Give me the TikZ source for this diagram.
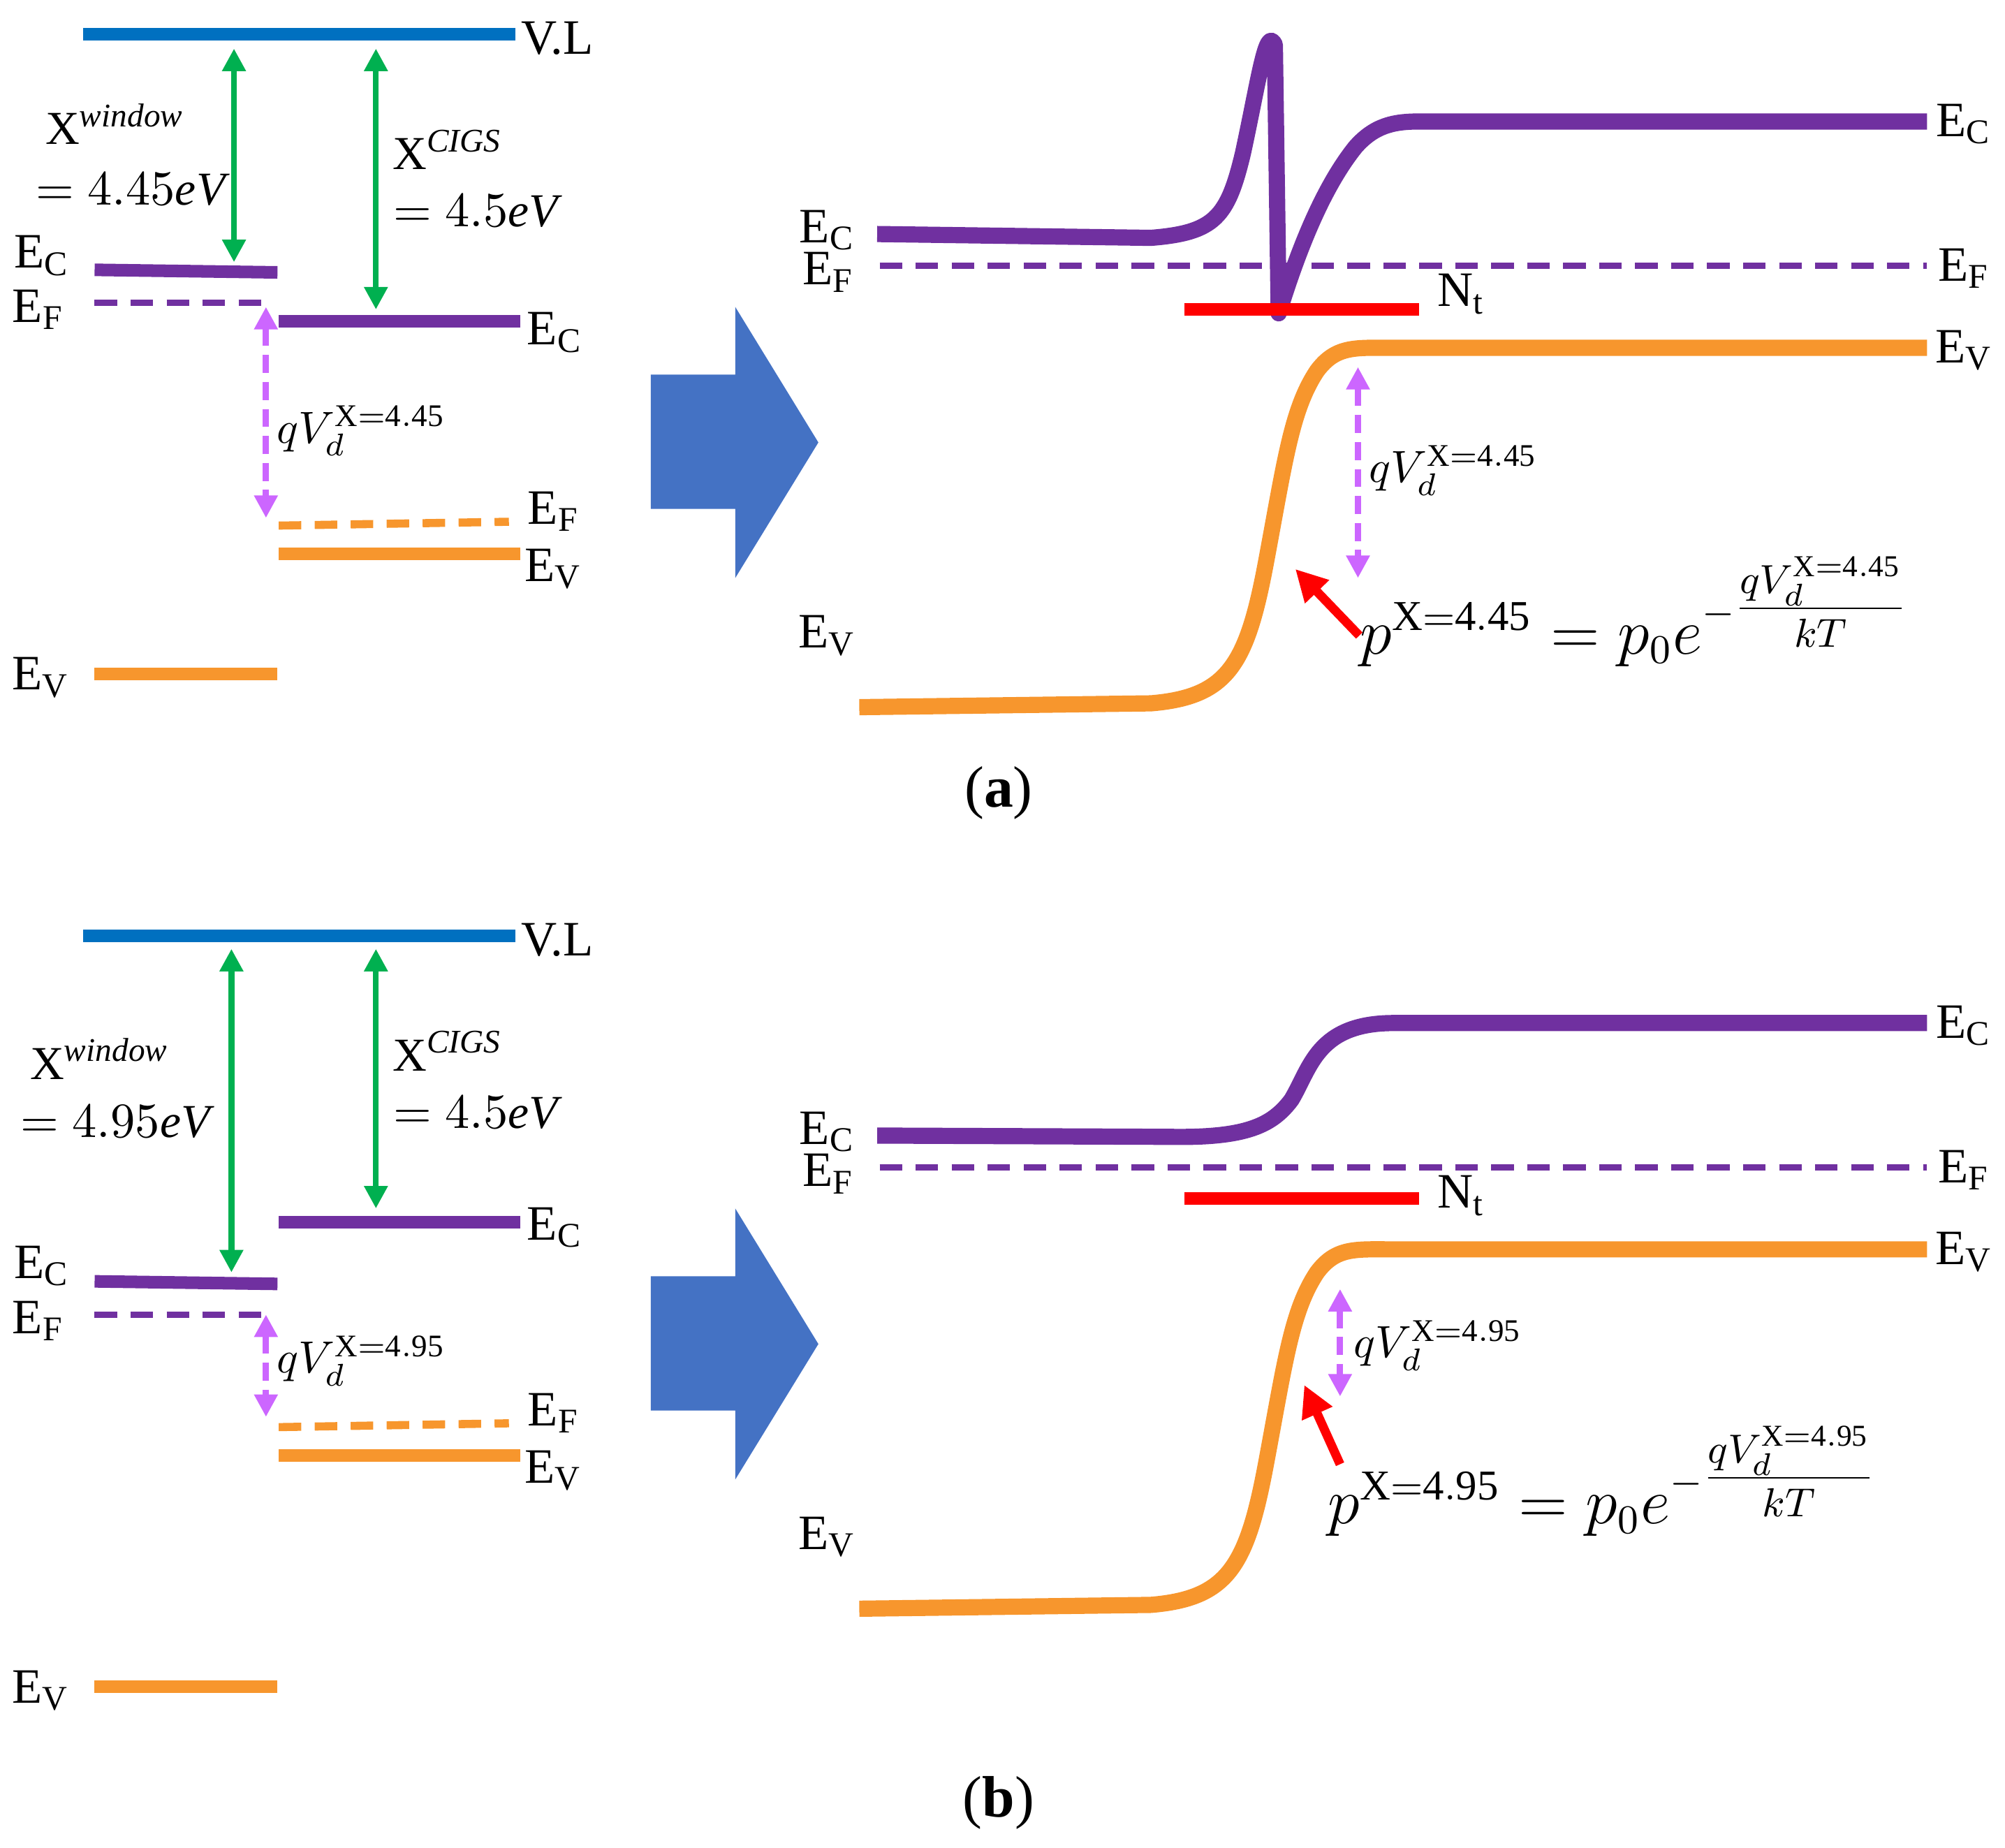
\documentclass[tikz,border=0pt]{standalone}
\usepackage{fontspec}
\setmainfont{Liberation Serif}
\usetikzlibrary{arrows.meta}
\definecolor{vl}{RGB}{0,112,192}
\definecolor{pur}{RGB}{112,48,160}
\definecolor{org}{RGB}{247,150,45}
\definecolor{grn}{RGB}{0,176,80}
\definecolor{mag}{RGB}{204,102,255}
\definecolor{bar}{RGB}{68,114,196}
\newcommand{\pform}[1]{$p^{\mathrm{X=#1}}=p_0e^{-\textstyle\frac{qV_d^{\mathrm{X=#1}}}{kT}}$}
\begin{document}
\begin{tikzpicture}[x=0.01cm,y=-0.01cm,
 lvl/.style={line width=2.8pt},
 dsh/.style={line width=1.4pt,dash pattern=on 5pt off 3pt},
 gar/.style={grn,line width=1.3pt,{Triangle[length=5pt,width=5pt]}-{Triangle[length=5pt,width=5pt]}},
 mar/.style={mag,line width=1.4pt,dash pattern=on 4pt off 2pt,{Triangle[length=5pt,width=5pt]}-{Triangle[length=5pt,width=5pt]}},
 lab/.style={font=\fontsize{11}{13}\selectfont,inner sep=0pt},
 chi/.style={font=\fontsize{10.5}{12}\selectfont,inner sep=0pt},
 qvs/.style={font=\fontsize{10}{12}\selectfont,inner sep=0pt},
 crv/.style={line width=3.6pt},
 form/.style={font=\fontsize{13.5}{16}\selectfont,inner sep=0pt}]
\useasboundingbox (0,0) rectangle (1568,1445);
% ---------------- Panel (a) ----------------
\draw[vl,lvl] (65,27) -- (403,27);
\node[lab,anchor=west] (vla) at (407,30) {V.L};
\coordinate (ga1) at (183,38); \coordinate (ga2) at (183,205);
\draw[gar] (ga1) -- (ga2);
\coordinate (gb1) at (294,38); \coordinate (gb2) at (294,242);
\draw[gar] (gb1) -- (gb2);
\node[chi] (xw) at (90,97) {X$^{\mathit{window}}$};
\node[chi] (xwv) at (102,148) {$=4.45\mathit{eV}$};
\node[chi] (xc) at (350,117) {X$^{\mathit{CIGS}}$};
\node[chi] (xcv) at (372,165) {$=4.5\mathit{eV}$};
\draw[pur,lvl] (74,211) -- (217,213);
\node[lab] (ecl) at (33,200) {E$_{\mathrm C}$};
\draw[pur,dsh] (74,237) -- (205,237);
\node[lab] (efl) at (30,242) {E$_{\mathrm F}$};
\draw[pur,lvl] (218,251) -- (407,251);
\node[lab] (ecr) at (434,260) {E$_{\mathrm C}$};
\coordinate (ma1) at (208,240); \coordinate (ma2) at (208,405);
\draw[mar] (ma1) -- (ma2);
\node[qvs,anchor=west] (qv) at (216,337) {$qV_d^{\mathrm{X=4.45}}$};
\draw[org,dsh,line width=1.8pt] (218,411) -- (398,408);
\node[lab] (efr) at (433,400) {E$_{\mathrm F}$};
\draw[org,lvl] (218,433) -- (407,433);
\node[lab] (evr) at (433,445) {E$_{\mathrm V}$};
\draw[org,lvl] (74,527) -- (217,527);
\node[lab] (evl) at (32,530) {E$_{\mathrm V}$};
\fill[bar] (509,293) -- (575,293) -- (575,240) -- (640,346) -- (575,452) -- (575,398) -- (509,398) -- cycle;
\draw[pur,crv,line join=round] (686,183) -- (900,186) .. controls (950,182) and (960,170) .. (972,120)
  .. controls (985,60) and (990,20) .. (997,35) -- (1000,245)
  .. controls (1020,180) and (1040,140) .. (1060,115) .. controls (1075,98) and (1090,95) .. (1110,95) -- (1507,95);
\node[lab] (ec2l) at (647,180) {E$_{\mathrm C}$};
\node[lab] (ec2r) at (1536,97) {E$_{\mathrm C}$};
\draw[pur,dsh] (688,208) -- (1507,208);
\node[lab] (ef2l) at (648,213) {E$_{\mathrm F}$};
\node[lab] (ef2r) at (1536,210) {E$_{\mathrm F}$};
\draw[red,lvl] (926,242) -- (1110,242);
\node[lab] (nt) at (1143,230) {N$_{\mathrm t}$};
\draw[org,crv] (672,553) -- (900,550) .. controls (960,545) and (975,520) .. (990,440)
  .. controls (1005,360) and (1010,320) .. (1030,290) .. controls (1045,270) and (1060,272) .. (1090,272) -- (1507,272);
\node[lab] (ev2l) at (647,497) {E$_{\mathrm V}$};
\node[lab] (ev2r) at (1536,274) {E$_{\mathrm V}$};
\coordinate (mb1) at (1062,287); \coordinate (mb2) at (1062,452);
\draw[mar] (mb1) -- (mb2);
\node[qvs,anchor=west] (qv2) at (1070,368) {$qV_d^{\mathrm{X=4.45}}$};
\node[form,anchor=west] (fa) at (1063,478) {\pform{4.45}};
\coordinate (ra1) at (1063,497); \coordinate (ra2) at (1013,445);
\draw[red,line width=2pt,-{Triangle[length=7pt,width=7pt]}] (ra1) -- (ra2);
\node[lab,font=\fontsize{13}{16}\selectfont] (capa) at (781,620) {(\textbf{a})};
% ---------------- Panel (b) ----------------
\draw[vl,lvl] (65,732) -- (403,732);
\node[lab,anchor=west] (vlb) at (407,735) {V.L};
\coordinate (gc1) at (181,742); \coordinate (gc2) at (181,995);
\draw[gar] (gc1) -- (gc2);
\coordinate (gd1) at (294,742); \coordinate (gd2) at (294,945);
\draw[gar] (gd1) -- (gd2);
\node[chi] (xwb) at (78,828) {X$^{\mathit{window}}$};
\node[chi] (xwvb) at (90,877) {$=4.95\mathit{eV}$};
\node[chi] (xcb) at (350,822) {X$^{\mathit{CIGS}}$};
\node[chi] (xcvb) at (372,870) {$=4.5\mathit{eV}$};
\draw[pur,lvl] (74,1002) -- (217,1004);
\node[lab] (eclb) at (33,990) {E$_{\mathrm C}$};
\draw[pur,dsh] (74,1028) -- (205,1028);
\node[lab] (eflb) at (30,1033) {E$_{\mathrm F}$};
\draw[pur,lvl] (218,956) -- (407,956);
\node[lab] (ecrb) at (434,960) {E$_{\mathrm C}$};
\coordinate (mc1) at (208,1028); \coordinate (mc2) at (208,1108);
\draw[mar] (mc1) -- (mc2);
\node[qvs,anchor=west] (qvb) at (216,1064) {$qV_d^{\mathrm{X=4.95}}$};
\draw[org,dsh,line width=1.8pt] (218,1116) -- (398,1113);
\node[lab] (efrb) at (433,1105) {E$_{\mathrm F}$};
\draw[org,lvl] (218,1138) -- (407,1138);
\node[lab] (evrb) at (433,1150) {E$_{\mathrm V}$};
\draw[org,lvl] (74,1319) -- (217,1319);
\node[lab] (evlb) at (32,1322) {E$_{\mathrm V}$};
\fill[bar] (509,998) -- (575,998) -- (575,945) -- (640,1051) -- (575,1157) -- (575,1103) -- (509,1103) -- cycle;
\draw[pur,crv] (686,888) -- (915,889) .. controls (975,890) and (995,880) .. (1010,860)
  .. controls (1025,835) and (1030,800) .. (1090,800) -- (1507,800);
\node[lab] (ec3l) at (647,885) {E$_{\mathrm C}$};
\node[lab] (ec3r) at (1536,802) {E$_{\mathrm C}$};
\draw[pur,dsh] (688,913) -- (1507,913);
\node[lab] (ef3l) at (648,918) {E$_{\mathrm F}$};
\node[lab] (ef3r) at (1536,915) {E$_{\mathrm F}$};
\draw[red,lvl] (926,937) -- (1110,937);
\node[lab] (ntb) at (1143,935) {N$_{\mathrm t}$};
\draw[org,crv] (672,1258) -- (900,1255) .. controls (960,1250) and (975,1225) .. (990,1145)
  .. controls (1005,1065) and (1010,1025) .. (1030,995) .. controls (1045,975) and (1060,977) .. (1090,977) -- (1507,977);
\node[lab] (ev3l) at (647,1202) {E$_{\mathrm V}$};
\node[lab] (ev3r) at (1536,979) {E$_{\mathrm V}$};
\coordinate (md1) at (1048,1008); \coordinate (md2) at (1048,1092);
\draw[mar] (md1) -- (md2);
\node[qvs,anchor=west] (qv3) at (1058,1052) {$qV_d^{\mathrm{X=4.95}}$};
\node[form,anchor=west] (fb) at (1038,1158) {\pform{4.95}};
\coordinate (rb1) at (1048,1145); \coordinate (rb2) at (1020,1083);
\draw[red,line width=2pt,-{Triangle[length=7pt,width=7pt]}] (rb1) -- (rb2);
\node[lab,font=\fontsize{13}{16}\selectfont] (capb) at (781,1410) {(\textbf{b})};
\end{tikzpicture}
\end{document}
